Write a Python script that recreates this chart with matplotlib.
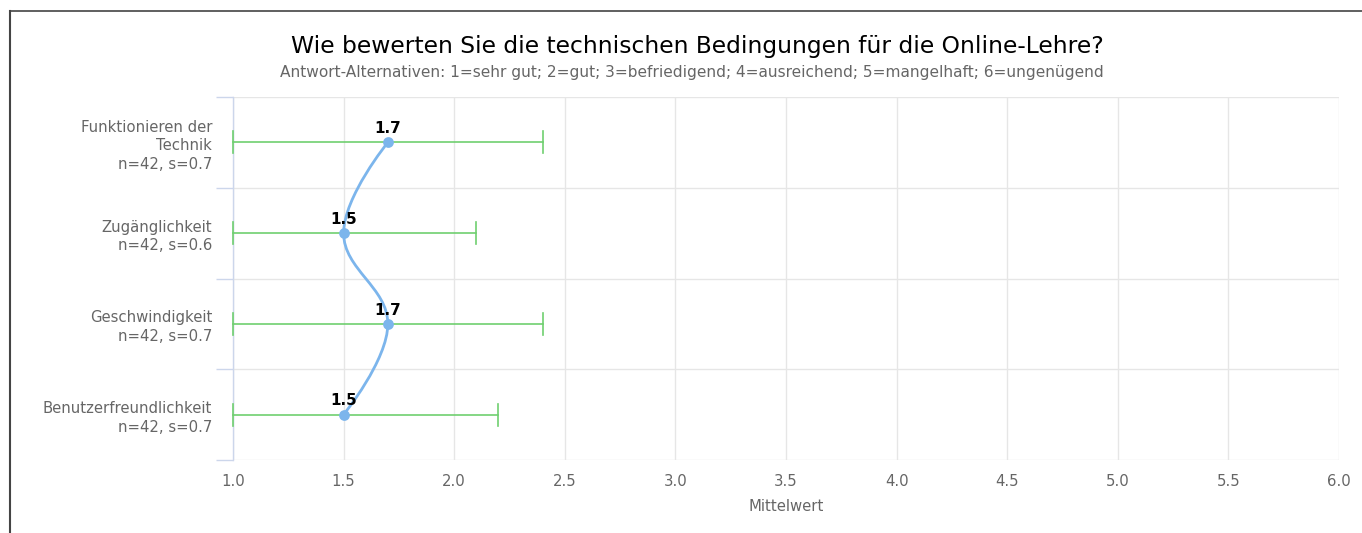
import matplotlib
matplotlib.use("Agg")
import matplotlib.pyplot as plt
from matplotlib.path import Path
from matplotlib.patches import PathPatch
from matplotlib.lines import Line2D

# data
categories = ["Funktionieren der\nTechnik", "Zugänglichkeit", "Geschwindigkeit", "Benutzerfreundlichkeit"]
n_vals     = [42, 42, 42, 42]
means      = [1.7, 1.5, 1.7, 1.5]
sds        = [0.7, 0.6, 0.7, 0.7]
x_ticks    = [1.0, 1.5, 2.0, 2.5, 3.0, 3.5, 4.0, 4.5, 5.0, 5.5, 6.0]

LINE_COL  = "#7cb5ec"
ERR_COL   = "#6fcf6f"
GRID_COL  = "#e6e6e6"
AXIS_COL  = "#ccd6eb"
LABEL_COL = "#666666"


def spline_path(xs, ys):
    """Highcharts-style spline; xs is the category axis, ys the value."""
    sm, den = 1.5, 2.5
    left, right = [], []
    for i in range(len(xs)):
        if 0 < i < len(xs) - 1:
            lx = (sm * xs[i] + xs[i - 1]) / den
            ly = (sm * ys[i] + ys[i - 1]) / den
            rx = (sm * xs[i] + xs[i + 1]) / den
            ry = (sm * ys[i] + ys[i + 1]) / den
            corr = (ry - ly) * (rx - xs[i]) / (rx - lx) + ys[i] - ry
            ly += corr
            ry += corr
            left.append((lx, ly))
            right.append((rx, ry))
        else:
            left.append((xs[i], ys[i]))
            right.append((xs[i], ys[i]))
    verts = [(ys[0], xs[0])]
    codes = [Path.MOVETO]
    for i in range(1, len(xs)):
        verts += [(right[i - 1][1], right[i - 1][0]), (left[i][1], left[i][0]), (ys[i], xs[i])]
        codes += [Path.CURVE4] * 3
    return Path(verts, codes)


fig = plt.figure(figsize=(13.62, 5.33), dpi=100)
ax = fig.add_axes([233 / 1362, 1 - 460 / 533, (1339 - 233) / 1362, (460 - 97) / 533])

pos = list(range(len(categories)))
xmin, xmax = x_ticks[0], x_ticks[-1]

# error bars
for p, m, s in zip(pos, means, sds):
    lo, hi = max(m - s, xmin), m + s
    ax.plot([lo, hi], [p, p], color=ERR_COL, lw=1.2, zorder=3, clip_on=False)
    for xe in (lo, hi):
        ax.plot([xe, xe], [p - 0.12, p + 0.12], color=ERR_COL, lw=1.2, zorder=3, clip_on=False)

# spline line + markers
ax.add_patch(PathPatch(spline_path(pos, means), fill=False, edgecolor=LINE_COL, lw=2, zorder=4))
ax.scatter(means, pos, s=60, color=LINE_COL, zorder=5, linewidths=0)
for p, m in zip(pos, means):
    ax.annotate(f"{m:.1f}", (m, p), xytext=(0, 4.5), textcoords="offset points",
                ha="center", va="bottom", fontsize=11, fontweight="bold", color="black", zorder=6)

ax.set_xlim(xmin, xmax)
ax.set_ylim(len(categories) - 0.5, -0.5)
ax.set_xticks(x_ticks)
ax.set_xticklabels([f"{v:.1f}" for v in x_ticks])
ax.tick_params(axis="x", length=0, pad=10, labelsize=10.7, labelcolor=LABEL_COL)
ax.grid(axis="x", color=GRID_COL, lw=1)

# category gridlines at band boundaries, with little ticks to the left
bounds = [b - 0.5 for b in range(len(categories) + 1)]
ax.set_yticks(bounds, minor=False)
ax.set_yticklabels([""] * len(bounds))
ax.tick_params(axis="y", which="major", length=12, color=AXIS_COL, width=1)
ax.grid(axis="y", which="major", color=GRID_COL, lw=1)
ax.set_yticks(pos, minor=True)
ax.set_yticklabels([f"{c}\nn={n}, s={s}" for c, n, s in zip(categories, n_vals, sds)],
                   minor=True, multialignment="right")
ax.tick_params(axis="y", which="minor", length=0, pad=15, labelsize=10.7, labelcolor=LABEL_COL)
for lbl in ax.get_yticklabels(minor=True):
    lbl.set_linespacing(1.3)

ax.set_axisbelow(True)
for side in ("top", "right", "bottom"):
    ax.spines[side].set_visible(False)
ax.spines["left"].set_color(AXIS_COL)
ax.spines["left"].set_linewidth(1)

ax.set_xlabel("Mittelwert", color=LABEL_COL, fontsize=10.7, labelpad=7)

fig.text(697 / 1362, 1 - 46 / 533, "Wie bewerten Sie die technischen Bedingungen für die Online-Lehre?",
         ha="center", va="center", fontsize=16.8, color="#000000")
fig.text(692 / 1362, 1 - 72 / 533,
         "Antwort-Alternativen: 1=sehr gut; 2=gut; 3=befriedigend; 4=ausreichend; 5=mangelhaft; 6=ungenügend",
         ha="center", va="center", fontsize=11.05, color=LABEL_COL)

# container border (top and left edges)
fig.add_artist(Line2D([10 / 1362, 1], [1 - 11 / 533, 1 - 11 / 533], color="#444444", lw=1.2))
fig.add_artist(Line2D([10 / 1362, 10 / 1362], [0, 1 - 11 / 533], color="#444444", lw=1.5))

fig.savefig("out.png", dpi=100)
